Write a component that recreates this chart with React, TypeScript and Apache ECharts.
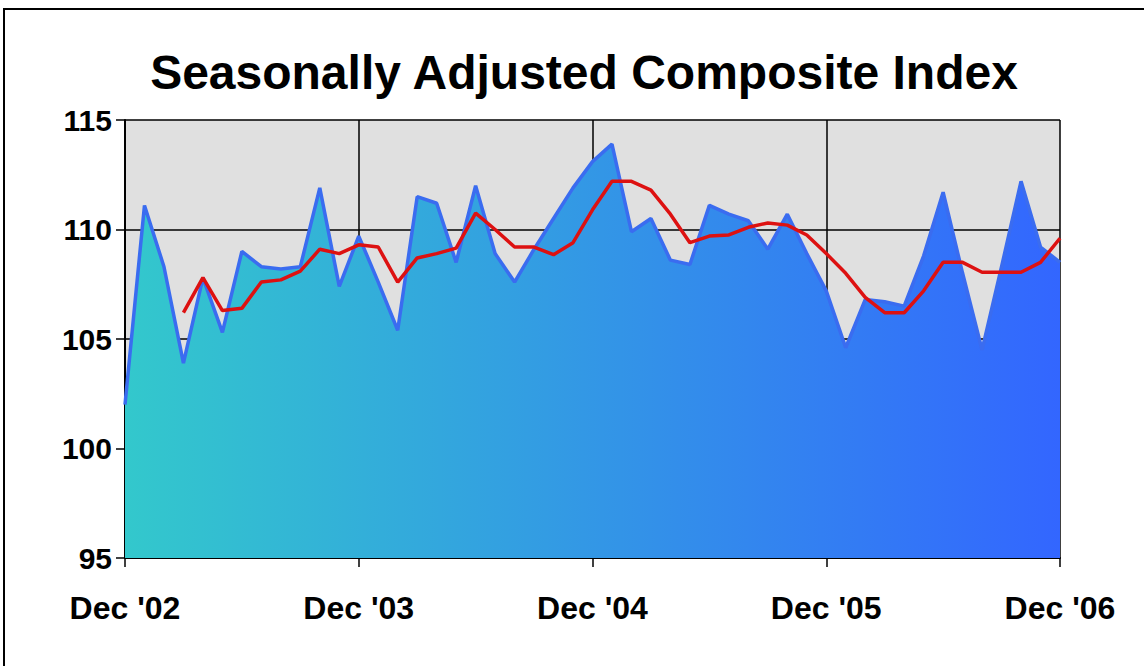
import React, { useEffect, useRef } from "react";
import * as echarts from "echarts";

const monthNames = ["Dec", "Jan", "Feb", "Mar", "Apr", "May", "Jun", "Jul", "Aug", "Sep", "Oct", "Nov"];
const startYears = ["02", "03", "04", "05", "06"];

// 49 monthly points, Dec '02 .. Dec '06
const categories: string[] = [];
for (let y = 0; y < 4; y++) {
  for (let m = 0; m < 12; m++) {
    const yr = m === 0 ? startYears[y] : startYears[y + 1];
    categories.push(monthNames[m] + " '" + yr);
  }
}
categories.push("Dec '06");

const indexValues = [
  102.0, 111.1, 108.3, 103.9, 107.8, 105.3, 109.0, 108.3, 108.2, 108.3, 111.9, 107.4,
  109.7, 107.6, 105.4, 111.5, 111.2, 108.5, 112.0, 108.9, 107.6, 109.1, 110.5, 111.9,
  113.1, 113.9, 109.9, 110.5, 108.6, 108.4, 111.1, 110.7, 110.4, 109.1, 110.7, 108.9,
  107.2, 104.6, 106.8, 106.7, 106.5, 108.8, 111.7, 108.0, 104.5, 108.3, 112.2, 109.2,
  108.5,
];

const movingAverage: (number | string)[] = [
  "-", "-", "-", 106.2, 107.8, 106.3, 106.4, 107.6, 107.7, 108.1, 109.1, 108.9,
  109.3, 109.2, 107.6, 108.7, 108.9, 109.15, 110.75, 110.0, 109.2, 109.2, 108.85, 109.4,
  110.9, 112.2, 112.2, 111.8, 110.7, 109.4, 109.7, 109.75, 110.1, 110.3, 110.2, 109.75,
  108.9, 108.0, 106.9, 106.2, 106.2, 107.2, 108.5, 108.5, 108.05, 108.05, 108.05, 108.5,
  109.6,
];

const yTicks = [95, 100, 105, 110, 115];
const titleText = "Seasonally Adjusted Composite Index";

const FONT = "'Liberation Sans', Arial, sans-serif";

export default function App() {
  const ref = useRef<HTMLDivElement>(null);
  useEffect(() => {
    if (!ref.current) return;
    const chart = echarts.init(ref.current, undefined, { renderer: "svg" });
    const isYearTick = (i: number) => i % 12 === 0;
    chart.setOption({
      animation: false,
      backgroundColor: "#ffffff",
      grid: {
        left: 125,
        right: 84,
        top: 120,
        bottom: 108,
        show: true,
        backgroundColor: "#e0e0e0",
        borderWidth: 0,
      },
      graphic: [
        {
          type: "rect",
          shape: { x: 4, y: 9, width: 1200, height: 700 },
          style: { fill: "none", stroke: "#000", lineWidth: 2 },
          silent: true,
        },
        {
          type: "text",
          x: 584,
          y: 72,
          style: {
            text: titleText,
            fontFamily: FONT,
            fontWeight: "bold",
            fontSize: 48,
            fill: "#000",
            textAlign: "center",
            textVerticalAlign: "middle",
          },
        },
      ],
      xAxis: {
        type: "category",
        data: categories,
        boundaryGap: false,
        axisLine: { show: true, lineStyle: { color: "#000", width: 2 } },
        axisTick: {
          show: true,
          interval: (i: number) => isYearTick(i),
          length: 9,
          lineStyle: { color: "#000", width: 1.5 },
        },
        axisLabel: {
          interval: (i: number) => isYearTick(i),
          margin: 34,
          fontFamily: FONT,
          fontWeight: "bold",
          fontSize: 32,
          color: "#000",
          showMinLabel: true,
          showMaxLabel: true,
        },
        splitLine: {
          show: true,
          interval: (i: number) => isYearTick(i),
          lineStyle: { color: "#000", width: 1.5 },
        },
      },
      yAxis: {
        type: "value",
        min: yTicks[0],
        max: yTicks[yTicks.length - 1],
        interval: 5,
        axisLine: { show: true, lineStyle: { color: "#000", width: 2 } },
        axisTick: { show: true, length: 9, lineStyle: { color: "#000", width: 1.5 } },
        axisLabel: {
          margin: 13,
          fontFamily: FONT,
          fontWeight: "bold",
          fontSize: 30,
          color: "#000",
        },
        splitLine: { show: true, lineStyle: { color: "#000", width: 1.5 } },
      },
      series: [
        {
          name: "Index",
          type: "line",
          data: indexValues,
          symbol: "none",
          lineStyle: { color: "#3a6cf0", width: 3.5 },
          areaStyle: {
            origin: "start",
            opacity: 1,
            color: new echarts.graphic.LinearGradient(0, 0, 1, 0, [
              { offset: 0, color: "#33c8cc" },
              { offset: 1, color: "#3366ff" },
            ]),
          },
          z: 2,
        },
        {
          name: "Moving average",
          type: "line",
          data: movingAverage,
          symbol: "none",
          connectNulls: false,
          lineStyle: { color: "#dd1111", width: 3.5 },
          z: 3,
        },
      ],
    });
    return () => chart.dispose();
  }, []);
  return (
    <div
      ref={ref}
      style={{ position: "fixed", left: 0, top: 0, width: 1144, height: 666 }}
    />
  );
}
